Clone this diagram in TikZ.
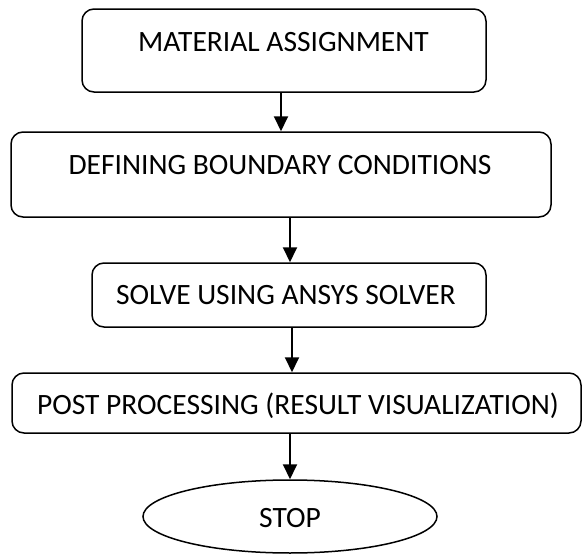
\documentclass[tikz,border=0pt]{standalone}
\usepackage{fontspec}
\setmainfont{Carlito}
\usetikzlibrary{arrows.meta,shapes.geometric}
\begin{document}
\begin{tikzpicture}[x=1pt,y=-1pt,
  box/.style={draw, line width=1.5pt, rounded corners=12pt, inner sep=0pt},
  oval/.style={draw, line width=1.5pt, ellipse, inner sep=0pt},
  lbl/.style={font=\fontsize{29.5}{31}\selectfont, inner sep=0pt, anchor=base},
  arr/.style={line width=2pt, -{Triangle[width=14pt,length=15pt]}}]
\useasboundingbox (0,0) rectangle (582,554);
\node[box, minimum width=404pt, minimum height=83pt] (b1) at (284,50.5) {};
\node[box, minimum width=540pt, minimum height=85pt] (b2) at (281,174.5) {};
\node[box, minimum width=394pt, minimum height=64pt] (b3) at (289,295) {};
\node[box, minimum width=569pt, minimum height=60pt] (b4) at (296.5,403) {};
\node[oval, minimum width=294pt, minimum height=73pt] (b5) at (290,516.5) {};
\node[lbl] (t1) at (283.5,51) {MATERIAL ASSIGNMENT};
\node[lbl] (t2) at (280,174) {DEFINING BOUNDARY CONDITIONS};
\node[lbl] (t3) at (286,304) {SOLVE USING ANSYS SOLVER};
\node[lbl] (t4) at (298,414) {POST PROCESSING (RESULT VISUALIZATION)};
\node[lbl] (t5) at (290,527) {STOP};
\draw[arr] ([xshift=-3pt]b1.south) -- ([xshift=-3pt]b1.south |- b2.north);
\draw[arr] ([xshift=9pt]b2.south) -- ([xshift=9pt]b2.south |- b3.north);
\draw[arr] ([xshift=3pt]b3.south) -- ([xshift=3pt]b3.south |- b4.north);
\draw[arr] ([xshift=-6.5pt]b4.south) -- (b5.north);
\end{tikzpicture}
\end{document}
